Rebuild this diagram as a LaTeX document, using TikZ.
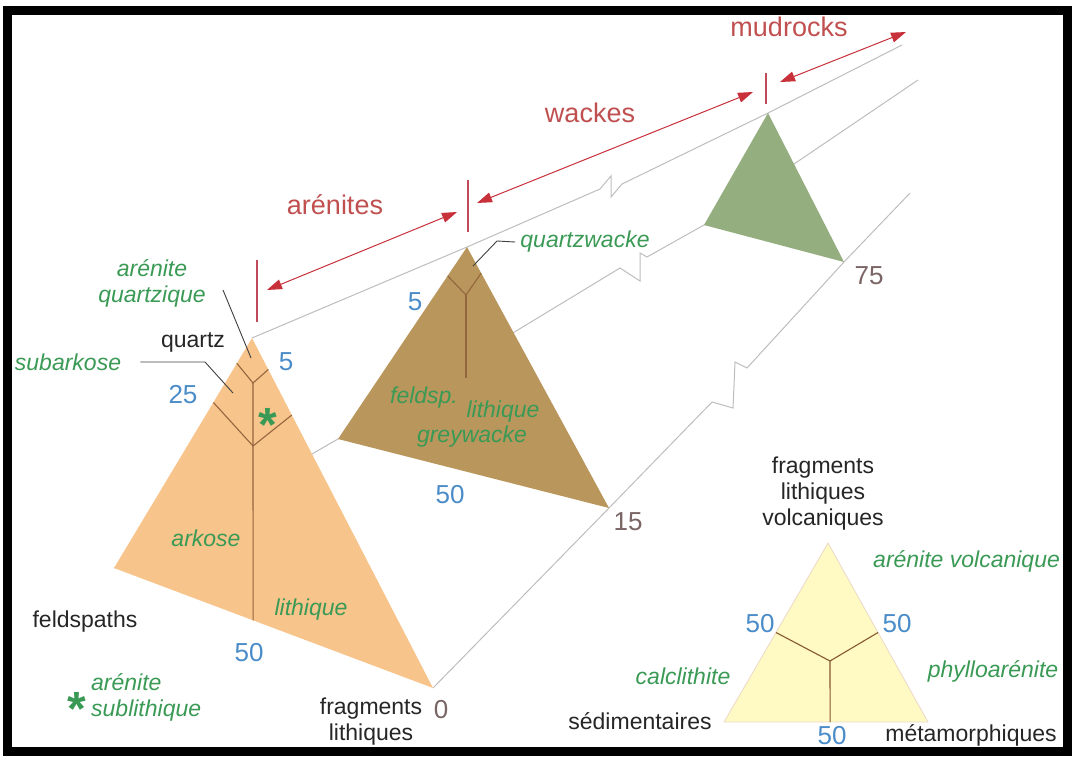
\documentclass[tikz,border=0pt]{standalone}
\usepackage{fontspec}
\setmainfont{Liberation Sans}
\usetikzlibrary{arrows.meta,calc}

\definecolor{orangefill}{HTML}{F7C48C}
\definecolor{brownfill}{HTML}{B8965C}
\definecolor{greenfill}{HTML}{95AE80}
\definecolor{paleyellow}{HTML}{FFF9C4}
\definecolor{railgray}{HTML}{BDBDBD}
\definecolor{divbrown}{HTML}{94663E}
\definecolor{spgreen}{HTML}{3A9A55}
\definecolor{pctblue}{HTML}{4A8CC8}
\definecolor{grpred}{HTML}{C05050}
\definecolor{arrowred}{HTML}{C8303A}
\definecolor{tickred}{HTML}{C04A5A}
\definecolor{limgray}{HTML}{7A6464}

\tikzset{
  rail/.style={draw=railgray, line width=1pt},
  divline/.style={draw=divbrown, line width=1.1pt},
  leader/.style={draw=black!75, line width=0.9pt},
  tick/.style={draw=tickred, line width=1.4pt},
  span/.style={draw=arrowred, line width=1pt,
    {Triangle[length=15pt,width=10pt]}-{Triangle[length=15pt,width=10pt]}},
  blk/.style={text=black!85, font=\fontsize{23}{26}\selectfont, inner sep=0pt, align=center},
  sp/.style={text=spgreen, font=\itshape\fontsize{23}{26}\selectfont, inner sep=0pt, align=center},
  pct/.style={text=pctblue, font=\fontsize{26}{30}\selectfont, inner sep=0pt},
  grp/.style={text=grpred, font=\fontsize{27}{30}\selectfont, inner sep=0pt},
  lim/.style={text=limgray, font=\fontsize{26}{30}\selectfont, inner sep=0pt},
  spstar/.style={text=spgreen, font=\bfseries\fontsize{48}{48}\selectfont, inner sep=0pt, anchor=base}
}

\begin{document}
\begin{tikzpicture}[x=1pt, y=-1pt]
\useasboundingbox (0,0) rectangle (1075,756);

% corners of the three diagrams
\coordinate (qA) at (252,338); \coordinate (fA) at (114,568); \coordinate (lA) at (433,688);
\coordinate (qW) at (467,247); \coordinate (fW) at (338,439); \coordinate (lW) at (609,508);
\coordinate (qM) at (768,113); \coordinate (fM) at (704,225); \coordinate (lM) at (844,262);

% rails, with their breaks
\draw[rail] (qA) -- (qW) -- (600,189) -- (611,176) -- (611,197) -- (622,184) -- (qM) -- (902,45);
\draw[rail] (fA) -- (fW) -- (620,268) -- (640,281) -- (640,253) -- (647,257) -- (fM) -- (918,80);
\draw[rail] (lA) -- (lW) -- (712,402) -- (733,408) -- (735,362) -- (747,368) -- (lM) -- (910,193);

% triangles
\fill[greenfill] (qM) -- (fM) -- (lM) -- cycle;
\fill[brownfill] (qW) -- (fW) -- (lW) -- cycle;
\fill[orangefill] (qA) -- (fA) -- (lA) -- cycle;

% fields of the arenites
\coordinate (jA1) at (253,383);
\coordinate (jA2) at (253,446);
\draw[divline] ($(qA)!0.11!(fA)$) -- (jA1) -- ($(qA)!0.09!(lA)$);
\draw[divline] ($(qA)!0.28!(fA)$) -- (jA2) -- ($(qA)!0.22!(lA)$);
\draw[divline] (jA1) -- ($(fA)!0.436!(lA)$);

% fields of the wackes
\coordinate (jW) at (466,295);
\draw[divline] ($(qW)!0.15!(fW)$) -- (jW) -- ($(qW)!0.10!(lW)$);
\draw[divline] (jW) -- (466,378);

% limits
\coordinate (tA1) at (257,260); \coordinate (tA2) at (257,322);
\coordinate (tW1) at (468,180); \coordinate (tW2) at (468,232);
\coordinate (tM1) at (766,73);  \coordinate (tM2) at (766,104);
\draw[tick] (tA1) -- (tA2);
\draw[tick] (tW1) -- (tW2);
\draw[tick] (tM1) -- (tM2);

\coordinate (sA1) at (267,290); \coordinate (sA2) at (457,212);
\coordinate (sW1) at (477,203); \coordinate (sW2) at (753,92);
\coordinate (sM1) at (780,82);  \coordinate (sM2) at (906,32);
\draw[span] (sA1) -- (sA2);
\draw[span] (sW1) -- (sW2);
\draw[span] (sM1) -- (sM2);

\node[grp] (arenites) at (335,205) {arénites};
\node[grp] (wackes) at (590,113) {wackes};
\node[grp] (mudrocks) at (789,27) {mudrocks};

% labels of the arenites
\node[sp] (aquartz) at (152,283) {arénite\\quartzique};
\node[blk] (quartz) at (193,342) {quartz};
\node[sp] (subark) at (68,362) {subarkose};
\node[pct] (q5) at (286,362) {5};
\node[pct] (q25) at (183,395) {25};
\node[spstar] (astA) at (268,441) {*};
\node[sp] (arkose) at (206,538) {arkose};
\node[sp] (lithA) at (311,610) {lithique};
\node[blk] (feld) at (85,622) {feldspaths};
\node[pct] (f50) at (249,653) {50};
\node[spstar] (astB) at (77,725) {*};
\node[sp, align=left, anchor=west] (subli) at (91,697) {arénite\\sublithique};
\node[blk] (fraglith) at (371,722) {fragments\\lithiques};
\node[lim] (l0) at (441,710) {0};

\draw[leader] (223,290) -- (251,358);
\draw[leader] ([xshift=19pt]subark.east) -- (205,362) -- (233,393);

% labels of the wackes
\node[pct] (w5) at (415,302) {5};
\node[sp] (qwacke) at (585,242) {quartzwacke};
\node[sp] (feldsp) at (424,398) {feldsp.};
\node[sp] (lithW) at (503,412) {lithique};
\node[sp] (grey) at (472,437) {greywacke};
\node[pct] (w50) at (450,495) {50};
\node[lim] (l15) at (628,522) {15};
\node[lim] (l75) at (869,276) {75};

\draw[leader] ([xshift=-5pt]qwacke.west) -- (497,241) -- (473,266);

% lithic fragments triangle
\coordinate (vtx) at (828,543);
\coordinate (sed) at (724,722);
\coordinate (met) at (928,722);
\coordinate (jL) at (830,661);
\filldraw[fill=paleyellow, draw=brown!30, line width=0.8pt] (vtx) -- (sed) -- (met) -- cycle;
\draw[divline, draw=brown!70!black] ($(vtx)!0.5!(sed)$) -- (jL) -- ($(vtx)!0.5!(met)$);
\draw[divline, draw=brown!70!black] (jL) -- ($(sed)!0.52!(met)$);

\node[blk] (volc) at (823,494) {fragments\\lithiques\\volcaniques};
\node[sp, anchor=west] (avolc) at (873,561) {arénite volcanique};
\node[pct] (v50a) at (760,624) {50};
\node[pct] (v50b) at (897,624) {50};
\node[sp] (calc) at (683,676) {calclithite};
\node[sp] (phyl) at (993,671) {phylloarénite};
\node[blk] (sedim) at (640,721) {sédimentaires};
\node[pct] (v50c) at (832,736) {50};
\node[blk] (metam) at (971,735) {métamorphiques};

% frame
\draw[line width=9pt] (7.5,10.5) rectangle (1067.5,751.5);
\end{tikzpicture}
\end{document}
